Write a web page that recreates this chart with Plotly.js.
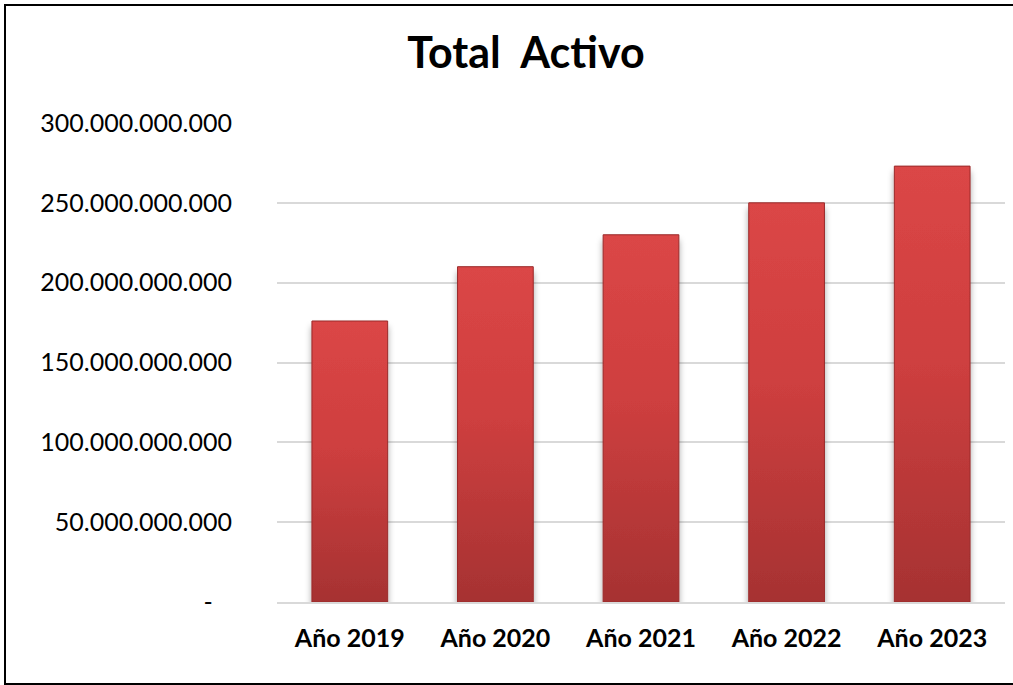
<!DOCTYPE html>
<html>
<head>
<meta charset="utf-8">
<script src="https://cdn.plot.ly/plotly-3.0.1.min.js"></script>
<style>
  html, body { margin: 0; padding: 0; background: #fff; }
  #wrap { position: relative; width: 1013px; height: 685px; overflow: hidden; }
  #chart { width: 1013px; height: 685px; }
  #frame { position: absolute; left: 4px; top: 4px; width: 1020px; height: 677px; border: 2px solid #000; pointer-events: none; }
</style>
</head>
<body>
<div id="wrap">
  <div id="chart"></div>
  <div id="frame"></div>
</div>
<script>
const categories = ["Año 2019", "Año 2020", "Año 2021", "Año 2022", "Año 2023"];
const totalActivo = [176000000000, 210000000000, 230000000000, 250000000000, 273000000000];
const tickValues = [0, 50000000000, 100000000000, 150000000000, 200000000000, 250000000000, 300000000000];
const tickLabels = ["-\u00a0\u00a0\u00a0", "50.000.000.000", "100.000.000.000", "150.000.000.000", "200.000.000.000", "250.000.000.000", "300.000.000.000"];
const chartTitle = "Total\u00a0\u00a0Activo";

const trace = {
  type: "bar",
  x: categories,
  y: totalActivo,
  marker: { color: "#C93B3B", line: { color: "#9A2A2A", width: 1 } },
  hoverinfo: "skip"
};

const layout = {
  width: 1013, height: 685,
  paper_bgcolor: "#fff", plot_bgcolor: "#fff",
  margin: { l: 277, r: 8, t: 123, b: 83 },
  bargap: 0.48,
  showlegend: false,
  title: {
    text: chartTitle,
    font: { family: "Lato", size: 43, color: "#000", weight: 700 },
    x: 526 / 1013, xanchor: "center", xref: "container",
    y: 1 - 53 / 685, yanchor: "middle", yref: "container"
  },
  xaxis: {
    type: "category",
    tickfont: { family: "Lato", size: 25, color: "#000", weight: 700 },
    ticks: "", showgrid: false, zeroline: false,
    showline: true, linecolor: "#D9D9D9", linewidth: 2,
    ticklabelstandoff: 13
  },
  yaxis: {
    range: [0, 300000000000],
    tickvals: tickValues, ticktext: tickLabels,
    tickfont: { family: "Lato", size: 25, color: "#000" },
    ticks: "", showgrid: true, gridcolor: "#D9D9D9", gridwidth: 2,
    zeroline: false, showline: false,
    ticklabelstandoff: 44
  }
};

Plotly.newPlot("chart", [trace], layout, { staticPlot: true, displayModeBar: false }).then(function (gd) {
  const svg = gd.querySelector("svg.main-svg");
  const ns = "http://www.w3.org/2000/svg";
  let defs = svg.querySelector("defs");
  if (!defs) { defs = document.createElementNS(ns, "defs"); svg.insertBefore(defs, svg.firstChild); }
  defs.insertAdjacentHTML("beforeend",
    '<linearGradient id="barGrad" x1="0" y1="0" x2="0" y2="1">' +
      '<stop offset="0" stop-color="#DB4646"/>' +
      '<stop offset="0.45" stop-color="#CE3F3F"/>' +
      '<stop offset="1" stop-color="#A63232"/>' +
    '</linearGradient>' +
    '<filter id="barShadow" x="-20%" y="-5%" width="140%" height="115%">' +
      '<feDropShadow dx="0" dy="6" stdDeviation="3" flood-color="#000" flood-opacity="0.35"/>' +
    '</filter>');
  gd.querySelectorAll(".bars .point path").forEach(function (p) {
    p.style.fill = "url(#barGrad)";
    p.setAttribute("filter", "url(#barShadow)");
  });
});
</script>
</body>
</html>
